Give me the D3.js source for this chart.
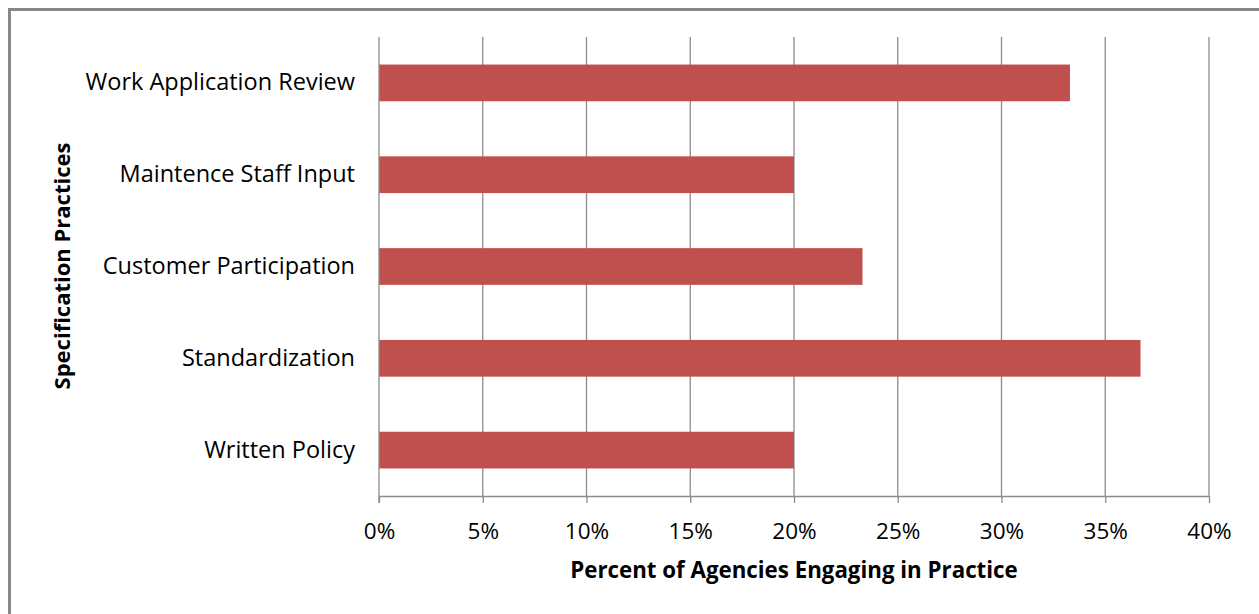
<!DOCTYPE html>
<html>
<head>
<meta charset="utf-8">
<script src="https://cdn.jsdelivr.net/npm/d3@7"></script>
<style>
  body { margin: 0; background: #fff; }
  text { font-family: "Open Sans", sans-serif; fill: #000; }
</style>
</head>
<body>
<div id="chart"></div>
<script>
// chart values
var categories = ["Work Application Review", "Maintence Staff Input", "Customer Participation", "Standardization", "Written Policy"];
var percents = [33.3, 20, 23.3, 36.7, 20];
var tickValues = [0, 5, 10, 15, 20, 25, 30, 35, 40];

var width = 1259, height = 614;
var margin = {top: 37, right: 50, bottom: 118, left: 379};

var svg = d3.select("#chart").append("svg")
    .attr("width", width)
    .attr("height", height);

// outer frame
svg.append("rect")
    .attr("x", 9.5).attr("y", 9.5)
    .attr("width", width + 20).attr("height", height + 20)
    .attr("fill", "none")
    .attr("stroke", "#878787")
    .attr("stroke-width", 3);

var x = d3.scaleLinear()
    .domain([0, 40])
    .range([margin.left, 1209]);

var y = d3.scaleBand()
    .domain(categories)
    .range([margin.top, 496])
    .paddingInner(0.6)
    .paddingOuter(0.3);

// vertical grid lines
svg.append("g")
    .selectAll("line")
    .data(tickValues.slice(1))
    .enter().append("line")
    .attr("x1", function(d){ return x(d); })
    .attr("x2", function(d){ return x(d); })
    .attr("y1", margin.top)
    .attr("y2", 496)
    .attr("stroke", "#8c8c8c")
    .attr("stroke-width", 1.3);

// bars
svg.append("g")
    .selectAll("rect")
    .data(categories)
    .enter().append("rect")
    .attr("x", x(0))
    .attr("y", function(d){ return y(d); })
    .attr("width", function(d, i){ return x(percents[i]) - x(0); })
    .attr("height", y.bandwidth())
    .attr("fill", "#C0504D");

// x axis
var xAxis = svg.append("g")
    .attr("transform", "translate(0,496)")
    .call(d3.axisBottom(x).tickValues(tickValues)
        .tickFormat(function(d){ return d + "%"; })
        .tickSize(7).tickSizeOuter(0).tickPadding(20));
xAxis.select(".domain").attr("stroke", "#8c8c8c").attr("stroke-width", 1.3);
xAxis.selectAll(".tick line").attr("stroke", "#8c8c8c").attr("stroke-width", 1.3);
xAxis.selectAll(".tick text")
    .style("font-family", "'Open Sans', sans-serif")
    .style("font-size", "22.5px")
    .attr("fill", "#000");

// y axis
var yAxis = svg.append("g")
    .attr("transform", "translate(" + margin.left + ",0)")
    .call(d3.axisLeft(y).tickSize(0).tickPadding(24));
yAxis.select(".domain").remove();
svg.append("line")
    .attr("x1", margin.left).attr("x2", margin.left)
    .attr("y1", margin.top).attr("y2", 503)
    .attr("stroke", "#8c8c8c").attr("stroke-width", 1.3);
yAxis.selectAll(".tick text")
    .style("font-family", "'Open Sans', sans-serif")
    .style("font-size", "23.5px")
    .attr("fill", "#000");

// axis titles
svg.append("text")
    .attr("x", 794).attr("y", 578)
    .attr("text-anchor", "middle")
    .style("font-size", "22.3px")
    .style("font-weight", "bold")
    .text("Percent of Agencies Engaging in Practice");

svg.append("text")
    .attr("transform", "translate(70,266) rotate(-90)")
    .attr("text-anchor", "middle")
    .style("font-size", "22px")
    .style("font-weight", "bold")
    .text("Specification Practices");
</script>
</body>
</html>
